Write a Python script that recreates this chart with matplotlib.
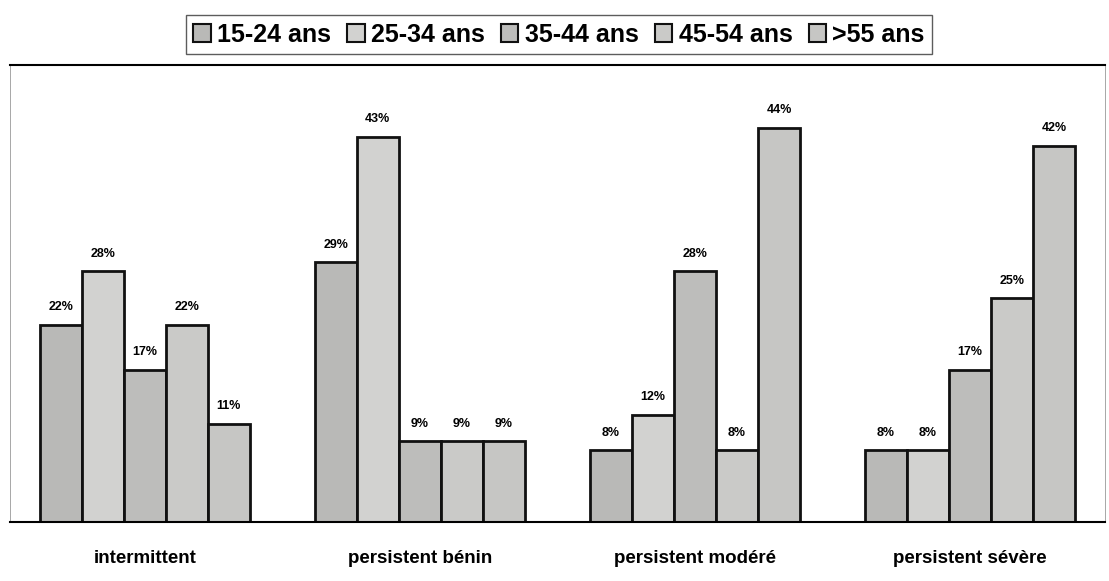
import numpy as np
import matplotlib.pyplot as plt
from matplotlib.patches import Patch

plt.rcParams['font.family'] = ['Liberation Sans', 'DejaVu Sans']

categories = ['intermittent', 'persistent bénin', 'persistent modéré', 'persistent sévère']
age_groups = ['15-24 ans', '25-34 ans', '35-44 ans', '45-54 ans', '>55 ans']
values = {
    '15-24 ans': [22, 29, 8, 8],
    '25-34 ans': [28, 43, 12, 8],
    '35-44 ans': [17, 9, 28, 17],
    '45-54 ans': [22, 9, 8, 25],
    '>55 ans': [11, 9, 44, 42],
}
colors = ['#b9b9b7', '#d2d2d0', '#bdbdbb', '#cacac8', '#c6c6c4']

fig = plt.figure(figsize=(11.09, 5.81), dpi=100)
ax = fig.add_axes([0.009, 0.1015, 0.987, 0.786])

x = np.arange(len(categories))
w = 0.153
for i, grp in enumerate(age_groups):
    pos = x + (i - 2) * w
    bars = ax.bar(pos, values[grp], width=w, color=colors[i],
                  edgecolor='#111111', linewidth=2)
    for b, v in zip(bars, values[grp]):
        ax.text(b.get_x() + b.get_width() / 2, v + 1.3, f'{v}%',
                ha='center', va='bottom', fontsize=9, fontweight='bold')

ax.set_xlim(-0.49, 3.49)
ax.set_ylim(0, 51)
ax.set_yticks([])
ax.set_xticks(x)
ax.set_xticklabels(categories, fontsize=13.5, fontweight='bold')
ax.tick_params(axis='x', length=0, pad=20)
for side in ['top', 'bottom']:
    ax.spines[side].set_linewidth(1.5)
for side in ['left', 'right']:
    ax.spines[side].set_linewidth(0.6)
    ax.spines[side].set_color('#999999')

handles = [Patch(facecolor=c, edgecolor='#111111', linewidth=1.5) for c in colors]
leg = fig.legend(handles, age_groups, loc='center', bbox_to_anchor=(0.504, 0.94),
                 ncol=5, prop={'weight': 'bold', 'size': 18},
                 frameon=True, fancybox=False, edgecolor='#333333',
                 handlelength=0.7, handleheight=0.7, handletextpad=0.25,
                 columnspacing=0.65, borderpad=0.3)
leg.get_frame().set_linewidth(1.0)

fig.savefig('out.png', dpi=100)
